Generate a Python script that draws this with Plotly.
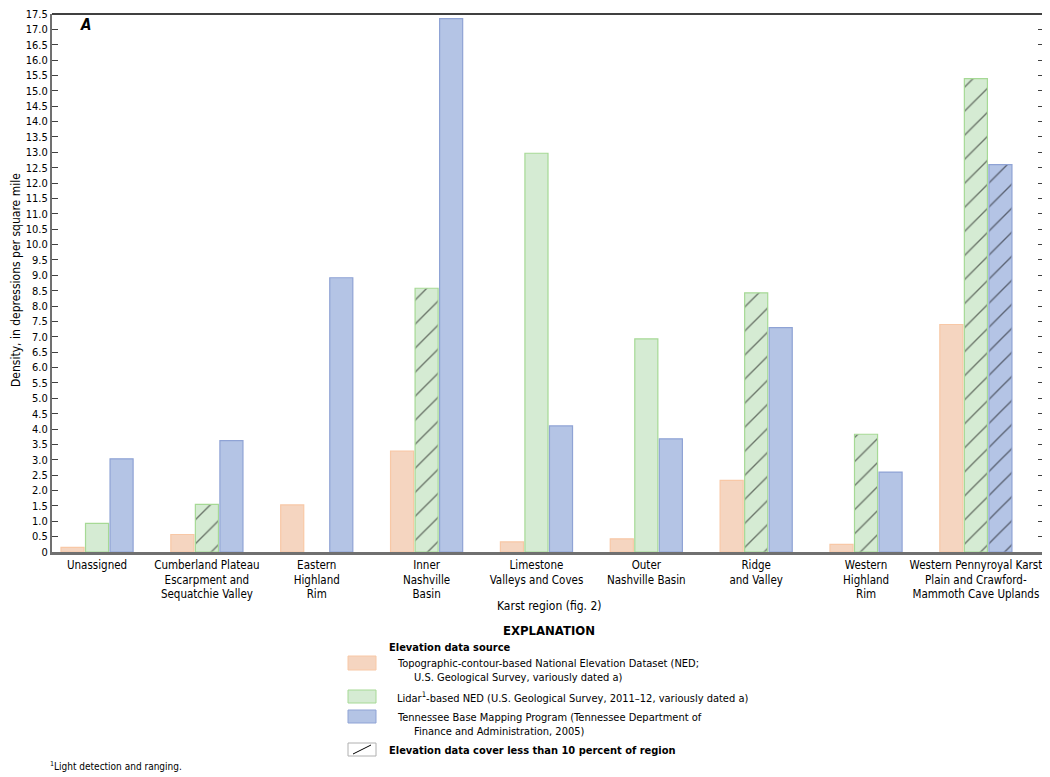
import plotly.graph_objects as go

regions = ["Unassigned",
           "Cumberland Plateau<br>Escarpment and<br>Sequatchie Valley",
           "Eastern<br>Highland<br>Rim",
           "Inner<br>Nashville<br>Basin",
           "Limestone<br>Valleys and Coves",
           "Outer<br>Nashville Basin",
           "Ridge<br>and Valley",
           "Western<br>Highland<br>Rim",
           "Western Pennyroyal Karst<br>Plain and Crawford-<br>Mammoth Cave Uplands"]

topo_ned = [0.15, 0.57, 1.53, 3.28, 0.33, 0.43, 2.33, 0.25, 7.40]
lidar_ned = [0.93, 1.55, None, 8.58, 12.97, 6.93, 8.43, 3.83, 15.40]
tbmp = [3.03, 3.62, 8.92, 17.35, 4.10, 3.68, 7.30, 2.60, 12.60]

# True where data cover less than 10 percent of region
topo_low = [False] * 9
lidar_low = [False, True, False, True, False, False, True, True, True]
tbmp_low = [False, False, False, False, False, False, False, False, True]

yticks = [i * 0.5 for i in range(36)]
yticktext = ["0"] + ["%.1f" % v for v in yticks[1:]]

FONT = "DejaVu Sans Condensed, Liberation Sans Narrow, Arial Narrow, sans-serif"

# the page puts the figure 8 px in from the window corner
OFF = 8
FW, FH = 1042, 769
L, R, T, B = 44, 1036, 6, 544
W, H = R - L, B - T


def px(x, y):
    # window pixel -> paper coords
    return (x - OFF - L) / W, (B - (y - OFF)) / H


series = [
    (topo_ned, topo_low, "#F5D5C0", "#F8C8A6"),
    (lidar_ned, lidar_low, "#D5EBD3", "#A6D995"),
    (tbmp, tbmp_low, "#B4C4E5", "#8FA3D5"),
]

fig = go.Figure()
for vals, low, fill, edge in series:
    fig.add_trace(go.Bar(
        x=list(range(len(regions))), y=vals,
        marker=dict(color=fill, line=dict(color=edge, width=1.2),
                    pattern=dict(shape=["/" if f else "" for f in low],
                                 fgcolor="#000000", size=17, solidity=0.08)),
        showlegend=False))

fig.update_layout(
    width=FW, height=FH,
    margin=dict(l=L, r=FW - R, t=T, b=FH - B),
    paper_bgcolor="white", plot_bgcolor="white",
    font=dict(family=FONT, size=11, color="black"),
    barmode="group", bargap=0.33, bargroupgap=0.06,
)

fig.update_xaxes(
    range=[-0.41, 8.62], tickvals=list(range(len(regions))), ticktext=regions,
    showline=True, linecolor="#707070", linewidth=2.5, ticks="",
    showgrid=False, zeroline=False, tickfont=dict(size=11.5), automargin=False,
)

fig.update_yaxes(
    range=[0, 17.5], tickvals=yticks, ticktext=yticktext,
    showline=True, linecolor="#707070", linewidth=2, mirror="allticks",
    ticks="inside", ticklen=6, tickcolor="#404040", tickwidth=1.2,
    showgrid=False, zeroline=False, tickfont=dict(size=11), automargin=False,
    ticklabeloverflow="allow",
)

shapes = [dict(type="line", xref="paper", yref="paper", x0=0, x1=1, y0=1, y1=1,
               line=dict(color="black", width=1.5))]
annots = []


def text(s, x, y, size=11, anchor="left", angle=0):
    xp, yp = px(x, y)
    annots.append(dict(text=s, x=xp, y=yp, xref="paper", yref="paper", showarrow=False,
                       xanchor=anchor, yanchor="middle", textangle=angle,
                       font=dict(size=size), borderpad=0))


def swatch(y0, y1, fill, edge):
    x0p, y0p = px(348, y1)
    x1p, y1p = px(376, y0)
    shapes.append(dict(type="rect", xref="paper", yref="paper", x0=x0p, x1=x1p, y0=y0p, y1=y1p,
                       fillcolor=fill, line=dict(color=edge, width=1)))


text("<b><i>A</i></b>", 79, 25, size=15)
text("Density, in depressions per square mile", 16, 280, size=12, anchor="center", angle=-90)
text("Karst region (fig. 2)", 549, 606, size=12, anchor="center")
text("<b>EXPLANATION</b>", 549, 630, size=13, anchor="center")
text("<b>Elevation data source</b>", 388, 647)
swatch(656, 670, "#F5D5C0", "#F8C8A6")
text("Topographic-contour-based National Elevation Dataset (NED;", 396, 663)
text("U.S. Geological Survey, variously dated a)", 413, 677)
swatch(690, 703, "#D5EBD3", "#A6D995")
text("Lidar<sup>1</sup>-based NED (U.S. Geological Survey, 2011–12, variously dated a)", 396, 697)
swatch(710, 723, "#B4C4E5", "#8FA3D5")
text("Tennessee Base Mapping Program (Tennessee Department of", 396, 717)
text("Finance and Administration, 2005)", 413, 731)
swatch(743, 756, "white", "#B0B0B0")
a, b = px(353, 754)
c, d = px(371, 745)
shapes.append(dict(type="line", xref="paper", yref="paper", x0=a, y0=b, x1=c, y1=d,
                   line=dict(color="black", width=1)))
text("<b>Elevation data cover less than 10 percent of region</b>", 388, 750)
text("<sup>1</sup>Light detection and ranging.", 49, 766, size=10)

fig.update_layout(shapes=shapes, annotations=annots)

fig.write_html("out.html")
